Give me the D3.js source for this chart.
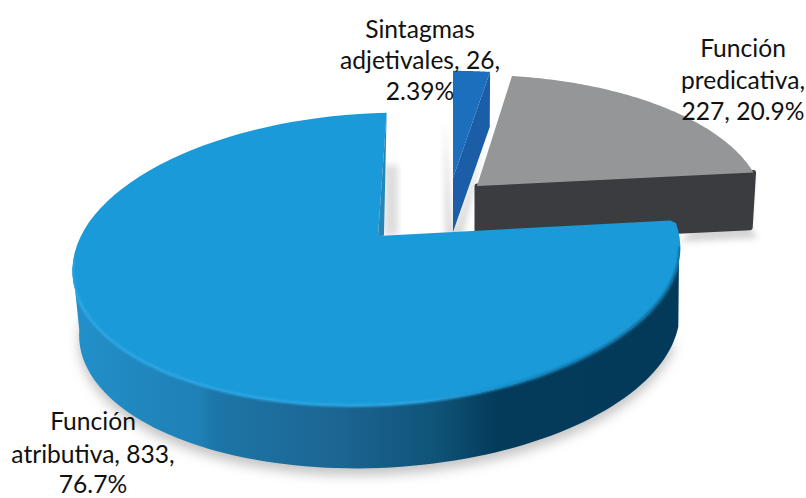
<!DOCTYPE html>
<html>
<head>
<meta charset="utf-8">
<script src="https://cdn.jsdelivr.net/npm/d3@7"></script>
<style>
  html, body { margin: 0; background: #fff; }
  svg { display: block; }
  text { font-family: Lato, "Open Sans", sans-serif; fill: #111; }
</style>
</head>
<body>
<div id="chart"></div>
<script>
const categories = ["Sintagmas adjetivales", "Función predicativa", "Función atributiva"];
const values = [26, 227, 833];
const percents = ["2.39%", "20.9%", "76.7%"];

const width = 806;
const height = 498;
const svg = d3.select("#chart").append("svg").attr("width", width).attr("height", height);
const defs = svg.append("defs");

[["blur1", 1], ["blur6", 6], ["blur3", 3]].forEach(([id, sd]) => {
  defs.append("filter").attr("id", id)
    .attr("x", "-20%").attr("y", "-20%").attr("width", "140%").attr("height", "140%")
    .append("feGaussianBlur").attr("stdDeviation", sd);
});

const sideGrad = defs.append("linearGradient").attr("id", "sideGrad")
  .attr("gradientUnits", "userSpaceOnUse").attr("x1", 74).attr("x2", 678).attr("y1", 0).attr("y2", 0);
[[0, "#2290ca"], [0.1, "#2088bf"], [0.21, "#1f80b6"], [0.23, "#1c76a8"], [0.44, "#1c6592"], [0.6, "#0f5378"], [0.7, "#043b5a"], [1, "#043a59"]]
  .forEach(([o, c]) => sideGrad.append("stop").attr("offset", o).attr("stop-color", c));

const rimGrad = defs.append("linearGradient").attr("id", "rimGrad")
  .attr("gradientUnits", "userSpaceOnUse").attr("x1", 74).attr("x2", 678).attr("y1", 0).attr("y2", 0);
[[0, "#2ba6e4"], [0.55, "#2ba6e4"], [0.72, "#1788c2"], [0.85, "#0f6a9b"], [1, "#0e5f8a"]]
  .forEach(([o, c]) => rimGrad.append("stop").attr("offset", o).attr("stop-color", c));

const pie = d3.pie().sort(null).value((d) => d);
const arcs = pie(values);

// where each exploded slice sits on the page
const placement = [
  { cx: 453, cy: 178, rx: 286, ry: 124, k: 0.157, shear: 0, tilt: 0, depth: 54, taper: 0.01, driftX: 0 },
  { cx: 477, cy: 186, rx: 283, ry: 128.5, k: 0.157, shear: 2, tilt: 0, depth: 55, taper: 0.012, driftX: 0 },
  { cx: 378, cy: 236, rx: 300, ry: 142.4, k: 0.1575, shear: -10, tilt: -0.0215, depth: 65, taper: 0.012, driftX: 3 }
];

function project(p, angle, h = 0) {
  const u = Math.sin(angle);
  const v = -Math.cos(angle);
  const w = 1 - p.k * v;
  const s = 1 - p.taper * h;
  const dx = (s * (p.rx * u + p.shear * v)) / w;
  return [p.cx + dx + p.driftX * h, p.cy + (s * p.ry * v) / w + p.depth * h + p.tilt * dx];
}

function apex(p, h = 0) {
  return [p.cx, p.cy + p.depth * h];
}

function arcPoints(p, a0, a1, h = 0) {
  const n = 90;
  return d3.range(n + 1).map((i) => project(p, a0 + ((a1 - a0) * i) / n, h));
}

const line = d3.line();
const poly = (pts) => line(pts) + "Z";
const lerp = d3.interpolateArray;

const [navy, grey, blue] = arcs;
const [pNavy, pGrey, pBlue] = placement;

// wall limits of the big slice: the left and right silhouette of the disc
const blueStart = blue.startAngle + 0.04;
const wallStart = Math.PI * 0.57;
const wallEnd = Math.PI * 1.45;
const blueCorner = project(pBlue, blueStart);
const wallPath = poly([...arcPoints(pBlue, wallStart, wallEnd), ...arcPoints(pBlue, wallEnd, wallStart, 1)]);
const topPath = poly([apex(pBlue), lerp(apex(pBlue), blueCorner)(0.985), ...arcPoints(pBlue, blueStart + 0.02, blue.endAngle)]);

// keeps the blurred rim inside the disc
const rimClip = defs.append("clipPath").attr("id", "rimClip");
rimClip.append("path").attr("d", wallPath);
rimClip.append("path").attr("d", topPath);

// soft shadows behind the slices
const shadows = svg.append("g");
shadows.append("path")
  .attr("d", poly(arcPoints(pBlue, blue.startAngle + 0.4, Math.PI * 1.55, 1)))
  .attr("transform", "translate(0,7)")
  .attr("fill", "#c4c4c4")
  .attr("filter", "url(#blur6)");
shadows.append("path")
  .attr("d", poly([[384, 236], [384, 165], [398, 165], [398, 236]]))
  .attr("fill", "#dedede")
  .attr("filter", "url(#blur3)");
shadows.append("path")
  .attr("d", poly([apex(pNavy, 1), project(pNavy, navy.endAngle, 1), [490, 118], [462, 240], [445, 240], [445, 120]]))
  .attr("fill", "#dadada")
  .attr("filter", "url(#blur3)");
shadows.append("path")
  .attr("d", poly([project(pGrey, grey.endAngle), project(pGrey, grey.endAngle, 1), [758, 238], [680, 242]]))
  .attr("fill", "#d4d4d4")
  .attr("filter", "url(#blur3)");

// grey slice: cut face first, then top
svg.append("path")
  .attr("d", poly([apex(pGrey), project(pGrey, grey.endAngle), project(pGrey, grey.endAngle, 1), apex(pGrey, 1)]))
  .attr("fill", "#3a3c3f")
  .attr("stroke", "#3a3c3f")
  .attr("stroke-width", 5)
  .attr("stroke-linejoin", "round");
svg.append("path")
  .attr("d", poly([apex(pGrey), ...arcPoints(pGrey, grey.startAngle, grey.endAngle)]))
  .attr("fill", "#949697");

// navy slice
svg.append("path")
  .attr("d", poly([apex(pNavy), project(pNavy, navy.endAngle), project(pNavy, navy.endAngle, 1), apex(pNavy, 1)]))
  .attr("fill", "#1b5da6");
svg.append("path")
  .attr("d", poly([apex(pNavy), ...arcPoints(pNavy, navy.startAngle, navy.endAngle)]))
  .attr("fill", "#1c6fbc");

// blue slice: wall, top, sliver of the cut face, rim
svg.append("path").attr("d", wallPath).attr("fill", "url(#sideGrad)");
svg.append("path").attr("d", topPath).attr("fill", "#1a9ad9");
svg.append("path")
  .attr("d", poly([apex(pBlue), project(pBlue, blue.endAngle), lerp(apex(pBlue), blueCorner)(0.02)]))
  .attr("fill", "#2686b6");
svg.append("g")
  .attr("clip-path", "url(#rimClip)")
  .append("path")
  .attr("d", line(arcPoints(pBlue, wallStart - 0.1, wallEnd + 0.05)))
  .attr("fill", "none")
  .attr("stroke", "url(#rimGrad)")
  .attr("stroke-width", 3)
  .attr("filter", "url(#blur1)");

// data labels
const labelRows = [
  { x: 420, y: [38, 69, 100], lines: ["Sintagmas", "adjetivales, " + values[0] + ",", percents[0]] },
  { x: 743, y: [57, 89, 120], lines: ["Función", "predicativa,", values[1] + ", " + percents[1]] },
  { x: 93, y: [430, 463, 493], lines: ["Función", "atributiva, " + values[2] + ",", percents[2]] }
];
svg.append("g").selectAll("text").data(labelRows).join("text")
  .attr("text-anchor", "middle")
  .attr("font-size", 24.6)
  .each(function (d) {
    d3.select(this).selectAll("tspan").data(d.lines).join("tspan")
      .attr("x", d.x)
      .attr("y", (t, i) => d.y[i])
      .text((t) => t);
  });
</script>
</body>
</html>
